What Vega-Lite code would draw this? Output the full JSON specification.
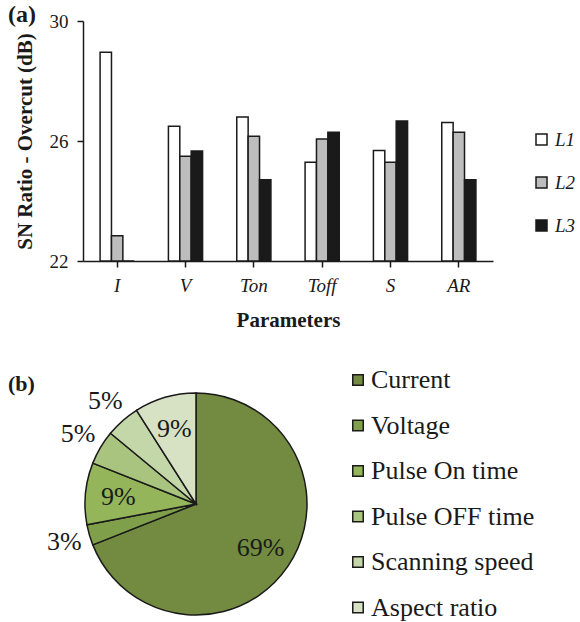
{
  "$schema": "https://vega.github.io/schema/vega-lite/v6.json",
  "background": "white",
  "padding": {"left": 8, "top": 3, "right": 0, "bottom": 0},
  "config": {
    "font": "Liberation Serif",
    "view": {"stroke": null},
    "axis": {"grid": false, "domain": true, "ticks": true, "tickOpacity": 1, "domainColor": "#1a1a1a", "tickColor": "#1a1a1a", "labelColor": "#1a1a1a", "titleColor": "#1a1a1a", "domainWidth": 1.5, "tickWidth": 1.5, "labelFont": "Liberation Serif", "titleFont": "Liberation Serif"},
    "legend": {"labelFont": "Liberation Serif"},
    "title": {"font": "Liberation Serif"}
  },
  "bounds": "flush",
  "spacing": 132,
  "resolve": {
    "scale": {"color": "independent", "x": "independent", "y": "independent", "theta": "independent"},
    "legend": {"color": "independent"}
  },
  "vconcat": [
    {
      "title": {"text": "(a)", "anchor": "start", "frame": "group", "dx": -75, "offset": -15, "fontSize": 24, "fontWeight": "bold", "color": "#1a1a1a"},
      "width": 410,
      "height": 240,
      "data": {
        "values": [
          {"param": "I", "level": "L1", "sn": 28.96},
          {"param": "I", "level": "L2", "sn": 22.84},
          {"param": "I", "level": "L3", "sn": 22.0},
          {"param": "V", "level": "L1", "sn": 26.49},
          {"param": "V", "level": "L2", "sn": 25.49},
          {"param": "V", "level": "L3", "sn": 25.67},
          {"param": "Ton", "level": "L1", "sn": 26.8},
          {"param": "Ton", "level": "L2", "sn": 26.16},
          {"param": "Ton", "level": "L3", "sn": 24.71},
          {"param": "Toff", "level": "L1", "sn": 25.29},
          {"param": "Toff", "level": "L2", "sn": 26.07},
          {"param": "Toff", "level": "L3", "sn": 26.29},
          {"param": "S", "level": "L1", "sn": 25.68},
          {"param": "S", "level": "L2", "sn": 25.29},
          {"param": "S", "level": "L3", "sn": 26.67},
          {"param": "AR", "level": "L1", "sn": 26.62},
          {"param": "AR", "level": "L2", "sn": 26.29},
          {"param": "AR", "level": "L3", "sn": 24.71}
        ]
      },
      "mark": {"type": "bar", "stroke": "#1a1a1a", "strokeWidth": 1.5},
      "encoding": {
        "x": {
          "field": "param", "type": "nominal", "sort": null,
          "scale": {"paddingInner": 0.5, "paddingOuter": 0.25},
          "axis": {"title": "Parameters", "domain": true, "ticks": true, "labelAngle": 0, "labelFontStyle": "italic", "labelFontSize": 19, "labelPadding": 9, "tickSize": 6, "titleFontSize": 21, "titleFontWeight": "bold", "titlePadding": 14}
        },
        "xOffset": {"field": "level", "type": "nominal", "sort": null},
        "y": {
          "field": "sn", "type": "quantitative",
          "scale": {"domain": [22, 30], "zero": false, "nice": false},
          "axis": {"title": "SN Ratio - Overcut (dB)", "domain": true, "ticks": true, "values": [22, 26, 30], "labelFontSize": 19, "labelPadding": 9, "tickSize": 6, "titleFontSize": 21, "titleFontWeight": "bold", "titlePadding": 14}
        },
        "y2": {"datum": 22},
        "color": {
          "field": "level", "type": "nominal",
          "scale": {"domain": ["L1", "L2", "L3"], "range": ["#ffffff", "#bdbdbd", "#1a1a1a"]},
          "legend": {"title": null, "orient": "none", "legendX": 449, "legendY": 109, "symbolType": "square", "symbolSize": 121, "symbolStrokeColor": "#1a1a1a", "symbolStrokeWidth": 1.5, "symbolOpacity": 1, "labelFontSize": 19, "labelFontStyle": "italic", "labelColor": "#1a1a1a", "labelOffset": 4, "rowPadding": 23}
        }
      }
    },
    {
      "title": {"text": "(b)", "anchor": "start", "frame": "group", "dx": -75, "offset": -37, "fontSize": 22, "fontWeight": "bold", "color": "#1a1a1a"},
      "width": 226,
      "height": 222,
      "data": {
        "values": [
          {"factor": "Current", "share": 0.69, "rank": 1},
          {"factor": "Voltage", "share": 0.03, "rank": 2},
          {"factor": "Pulse On time", "share": 0.09, "rank": 3},
          {"factor": "Pulse OFF time", "share": 0.05, "rank": 4},
          {"factor": "Scanning speed", "share": 0.05, "rank": 5},
          {"factor": "Aspect ratio", "share": 0.09, "rank": 6}
        ]
      },
      "encoding": {
        "theta": {"field": "share", "type": "quantitative", "stack": true},
        "order": {"field": "rank", "type": "quantitative"}
      },
      "layer": [
        {
          "mark": {"type": "arc", "outerRadius": 111, "stroke": "#1a1a1a", "strokeWidth": 1.5},
          "encoding": {
            "color": {
              "field": "factor", "type": "nominal", "sort": null,
              "scale": {
                "domain": ["Current", "Voltage", "Pulse On time", "Pulse OFF time", "Scanning speed", "Aspect ratio"],
                "range": ["#728b40", "#809f4a", "#94b55a", "#a9c47f", "#c3d7a8", "#d7e2c5"]
              },
              "legend": {"title": null, "orient": "none", "legendX": 262, "legendY": -26, "symbolType": "square", "symbolSize": 110, "symbolStrokeColor": "#1a1a1a", "symbolStrokeWidth": 1.5, "symbolOpacity": 1, "labelFontSize": 26, "labelColor": "#1a1a1a", "labelOffset": 0, "rowPadding": 19.5, "labelLimit": 300}
            }
          }
        },
        {
          "mark": {"type": "text", "radius": 78, "fontSize": 26, "color": "#1a1a1a"},
          "encoding": {
            "text": {"field": "share", "type": "quantitative", "format": ".0%"},
            "opacity": {"condition": {"test": "datum.share < 0.09", "value": 0}, "value": 1}
          }
        },
        {
          "mark": {"type": "text", "radius": 137, "fontSize": 26, "color": "#1a1a1a"},
          "encoding": {
            "text": {"field": "share", "type": "quantitative", "format": ".0%"},
            "opacity": {"condition": {"test": "datum.share >= 0.09", "value": 0}, "value": 1}
          }
        }
      ]
    }
  ]
}
